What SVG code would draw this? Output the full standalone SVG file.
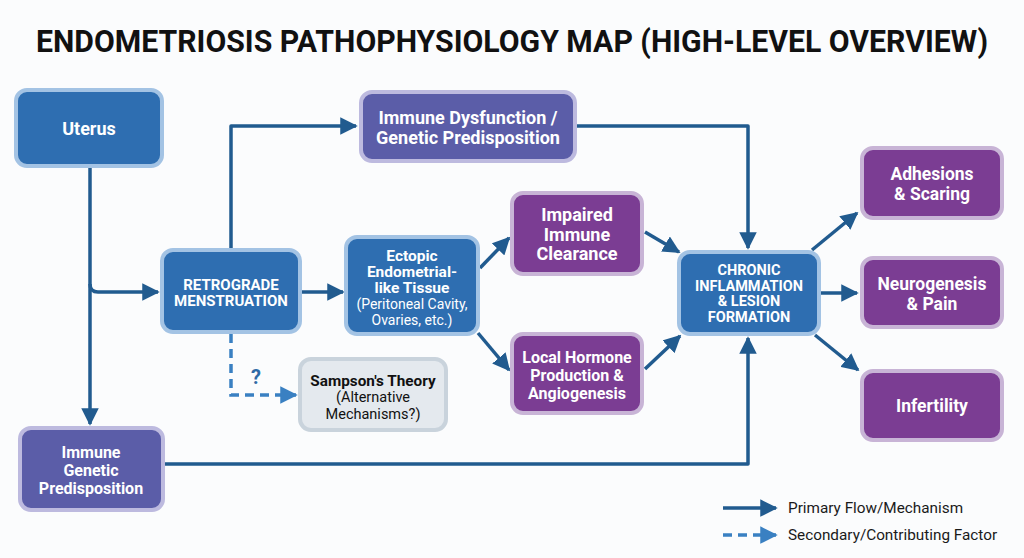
<svg xmlns="http://www.w3.org/2000/svg" width="1024" height="558" viewBox="0 0 1024 558">
<defs>
<style>
.t{font-family:Roboto,"Liberation Sans",Arial,sans-serif;font-weight:bold;fill:#fff;text-anchor:middle}
.blue{fill:#2e6eb1;stroke:#a3c3e4;stroke-width:4}
.indigo{fill:#5b5da8;stroke:#bdbadf;stroke-width:4}
.purple{fill:#7b3d93;stroke:#c8b4d6;stroke-width:4}
.gray{fill:#e4e9ee;stroke:#c9d3dc;stroke-width:4}
.c{fill:none;stroke:#215b8f;stroke-width:3.5;stroke-linejoin:round}
.d{fill:none;stroke:#3a80c2;stroke-width:3.5;stroke-dasharray:9 6}
.lg{font-family:Roboto,"Liberation Sans",Arial,sans-serif;font-size:15.3px;fill:#1a1a1a}
</style>
<marker id="ah" viewBox="0 0 10 10" refX="9" refY="5" markerWidth="5" markerHeight="5" markerUnits="strokeWidth" orient="auto"><path d="M0,0 L10,5 L0,10 z" fill="#215b8f"/></marker>
<marker id="ahd" viewBox="0 0 10 10" refX="9" refY="5" markerWidth="5" markerHeight="5" markerUnits="strokeWidth" orient="auto"><path d="M0,0 L10,5 L0,10 z" fill="#3a80c2"/></marker>
</defs>
<rect width="1024" height="558" fill="#fbfcfd"/>
<text x="512" y="52" font-family="Roboto,'Liberation Sans',Arial,sans-serif" font-weight="bold" font-size="31" fill="#111" text-anchor="middle" textLength="952" lengthAdjust="spacingAndGlyphs">ENDOMETRIOSIS PATHOPHYSIOLOGY MAP (HIGH-LEVEL OVERVIEW)</text>

<g id="connectors">
<path class="c" d="M90,166 V424" marker-end="url(#ah)"/>
<path class="c" d="M90,284 Q90,292 98,292 H158" marker-end="url(#ah)"/>
<path class="c" d="M231,250 V126 H356" marker-end="url(#ah)"/>
<path class="c" d="M300,292 H343" marker-end="url(#ah)"/>
<path class="c" d="M480,268 L509,238" marker-end="url(#ah)"/>
<path class="c" d="M478,333 L509,370" marker-end="url(#ah)"/>
<path class="c" d="M645,232 L679,252" marker-end="url(#ah)"/>
<path class="c" d="M645,369 L680,336" marker-end="url(#ah)"/>
<path class="c" d="M575,126 H748 V248" marker-end="url(#ah)"/>
<path class="c" d="M163,464 H748 V338" marker-end="url(#ah)"/>
<path class="c" d="M812,250 L857,213" marker-end="url(#ah)"/>
<path class="c" d="M821,293 L857,293" marker-end="url(#ah)"/>
<path class="c" d="M815,335 L858,370" marker-end="url(#ah)"/>
<path class="d" d="M231,334 V395 H296" marker-end="url(#ahd)"/>
<text x="256" y="384" font-family="Roboto,'Liberation Sans',Arial,sans-serif" font-weight="bold" font-size="20" fill="#2e6aa6" text-anchor="middle">?</text>
</g>

<g id="uterus"><rect class="blue" x="16" y="90" width="146" height="76" rx="11"/><text class="t" x="89" y="135" font-size="18">Uterus</text></g>
<g id="retrograde"><rect class="blue" x="162" y="250" width="138" height="82" rx="11"/><text class="t" font-size="15"><tspan x="231" y="290">RETROGRADE</tspan><tspan x="231" y="306">MENSTRUATION</tspan></text></g>
<g id="immune-dysfunction"><rect class="indigo" x="361" y="92" width="214" height="69" rx="11"/><text class="t" font-size="18"><tspan x="468" y="124">Immune Dysfunction /</tspan><tspan x="468" y="144">Genetic Predisposition</tspan></text></g>
<g id="ectopic"><rect class="blue" x="346" y="237" width="132" height="97" rx="11"/><text class="t" font-size="15.5"><tspan x="412" y="261">Ectopic</tspan><tspan x="412" y="277">Endometrial-</tspan><tspan x="412" y="293">like Tissue</tspan></text><text font-family="Roboto,'Liberation Sans',Arial,sans-serif" font-size="14" fill="#fff" text-anchor="middle"><tspan x="412" y="309">(Peritoneal Cavity,</tspan><tspan x="412" y="325">Ovaries, etc.)</tspan></text></g>
<g id="impaired"><rect class="purple" x="512" y="193" width="130" height="81" rx="11"/><text class="t" font-size="18"><tspan x="577" y="221">Impaired</tspan><tspan x="577" y="241">Immune</tspan><tspan x="577" y="260">Clearance</tspan></text></g>
<g id="local-hormone"><rect class="purple" x="512" y="334" width="130" height="79" rx="11"/><text class="t" font-size="16"><tspan x="577" y="363">Local Hormone</tspan><tspan x="577" y="381">Production &amp;</tspan><tspan x="577" y="399">Angiogenesis</tspan></text></g>
<g id="chronic"><rect class="blue" x="679" y="252" width="140" height="82" rx="11"/><text class="t" font-size="14.5"><tspan x="749" y="275">CHRONIC</tspan><tspan x="749" y="291">INFLAMMATION</tspan><tspan x="749" y="306">&amp; LESION</tspan><tspan x="749" y="322">FORMATION</tspan></text></g>
<g id="adhesions"><rect class="purple" x="862" y="148" width="140" height="70" rx="11"/><text class="t" font-size="17.5"><tspan x="932" y="180">Adhesions</tspan><tspan x="932" y="200">&amp; Scaring</tspan></text></g>
<g id="neurogenesis"><rect class="purple" x="862" y="258" width="140" height="69" rx="11"/><text class="t" font-size="17.5"><tspan x="932" y="290">Neurogenesis</tspan><tspan x="932" y="310">&amp; Pain</tspan></text></g>
<g id="infertility"><rect class="purple" x="862" y="371" width="140" height="69" rx="11"/><text class="t" x="932" y="412" font-size="17.5">Infertility</text></g>
<g id="sampson"><rect class="gray" x="300" y="359" width="146" height="71" rx="11"/><text font-family="Roboto,'Liberation Sans',Arial,sans-serif" font-size="14.5" fill="#111" text-anchor="middle"><tspan x="373" y="386" font-weight="bold" font-size="15.3">Sampson's Theory</tspan><tspan x="373" y="402">(Alternative</tspan><tspan x="373" y="419">Mechanisms?)</tspan></text></g>
<g id="immune-genetic"><rect class="indigo" x="20" y="428" width="143" height="82" rx="11"/><text class="t" font-size="16"><tspan x="91" y="458">Immune</tspan><tspan x="91" y="476">Genetic</tspan><tspan x="91" y="494">Predisposition</tspan></text></g>

<g id="legend">
<path d="M723,508 H776" fill="none" stroke="#215b8f" stroke-width="3.5" marker-end="url(#ah)"/>
<text class="lg" x="788" y="513">Primary Flow/Mechanism</text>
<path d="M723,535 H776" fill="none" stroke="#3a80c2" stroke-width="3.5" stroke-dasharray="9 6" marker-end="url(#ahd)"/>
<text class="lg" x="788" y="540">Secondary/Contributing Factor</text>
</g>
</svg>
